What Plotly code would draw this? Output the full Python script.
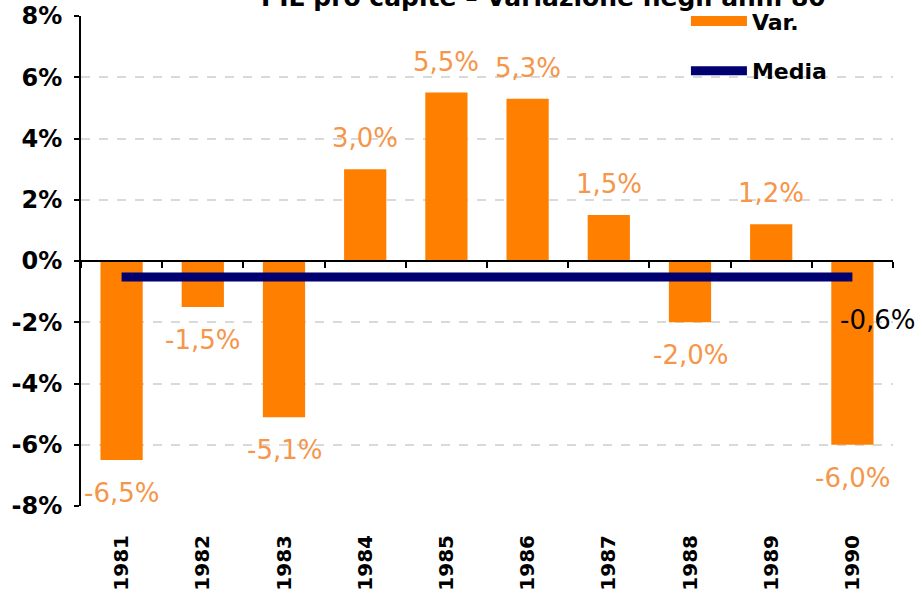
import plotly.graph_objects as go

years = ["1981", "1982", "1983", "1984", "1985", "1986", "1987", "1988", "1989", "1990"]
var_values = [-6.5, -1.5, -5.1, 3.0, 5.5, 5.3, 1.5, -2.0, 1.2, -6.0]
var_labels = ["-6,5%", "-1,5%", "-5,1%", "3,0%", "5,5%", "5,3%", "1,5%", "-2,0%", "1,2%", "-6,0%"]
media_values = [-0.52] * 10
media_label = "-0,6%"
y_ticks = [-8, -6, -4, -2, 0, 2, 4, 6, 8]
y_ticktext = ["-8%", "-6%", "-4%", "-2%", "0%", "2%", "4%", "6%", "8%"]
title_text = "PIL pro capite – Variazione negli anni 80"

ORANGE = "#FF7F00"
LABEL_ORANGE = "#F5964A"
NAVY = "#000070"
FONT = "DejaVu Sans"
XRANGE = [-0.5, len(years) - 0.5]

fig = go.Figure()
fig.add_trace(go.Bar(x=years, y=var_values, name="Var.", legendgroup="a", showlegend=False,
                     marker=dict(color=ORANGE, line=dict(width=0))))
# legend entry for the bars, drawn as a wide orange swatch like the original legend
fig.add_trace(go.Scatter(x=[None], y=[None], name="Var.", mode="lines", legendgroup="a",
                         line=dict(color=ORANGE, width=16), hoverinfo="skip"))
fig.add_trace(go.Scatter(x=years, y=media_values, name="Media", mode="lines", legendgroup="b",
                         line=dict(color=NAVY, width=9)))
# invisible trace carrying the zero-line category axis with boundary ticks
fig.add_trace(go.Scatter(x=years, y=[0] * len(years), xaxis="x2", mode="lines",
                         line=dict(width=0), showlegend=False, hoverinfo="skip"))

annotations = []
for i, (v, lab) in enumerate(zip(var_values, var_labels)):
    annotations.append(dict(
        x=i, y=v, text=lab, showarrow=False, xref="x", yref="y",
        yanchor="bottom" if v >= 0 else "top",
        yshift=14 if v >= 0 else -16,
        font=dict(family=FONT, size=26, color=LABEL_ORANGE)))
annotations.append(dict(
    x=len(years) - 1, y=media_values[-1], text=media_label, showarrow=False,
    xref="x", yref="y", xanchor="center", yanchor="middle", xshift=25, yshift=-43,
    font=dict(family=FONT, size=26, color="black")))
annotations.append(dict(
    x=0.57, y=1, xref="paper", yref="paper", xanchor="center", yanchor="bottom",
    yshift=2, text="<b>" + title_text + "</b>", showarrow=False,
    font=dict(family=FONT, size=25, color="black")))

fig.update_layout(
    width=922, height=599,
    margin=dict(l=81, r=29, t=16, b=93, autoexpand=False),
    paper_bgcolor="white", plot_bgcolor="white",
    bargap=0.48,
    font=dict(family=FONT, color="black"),
    legend=dict(x=0.745, y=1.032, xanchor="left", yanchor="top", bgcolor="rgba(0,0,0,0)",
                font=dict(family=FONT, size=22, color="black", weight="bold"),
                traceorder="grouped", tracegroupgap=18, itemwidth=56),
    annotations=annotations,
    showlegend=True,
    xaxis=dict(type="category", categoryarray=years, range=XRANGE, automargin=False,
               showline=False, ticks="", showgrid=False, zeroline=False,
               tickangle=-90, ticklabelstandoff=24, ticklabeloverflow="allow",
               tickfont=dict(family=FONT, size=20, color="black", weight="bold")),
    xaxis2=dict(type="category", categoryarray=years, range=XRANGE, overlaying="x",
                anchor="free", position=0.5, side="bottom", showline=True, linecolor="black",
                linewidth=2, ticks="outside", tickson="boundaries", ticklen=6, automargin=False,
                tickwidth=2, tickcolor="black", showticklabels=False,
                showgrid=False, zeroline=False),
    yaxis=dict(range=[-8, 8], tickvals=y_ticks, ticktext=y_ticktext, automargin=False,
               showgrid=True, gridcolor="#D9D9D9", griddash="dash", gridwidth=2,
               zeroline=False, showline=True, linecolor="black", linewidth=2,
               ticks="outside", ticklen=5, tickcolor="black", tickwidth=2,
               tickfont=dict(family=FONT, size=24, color="black", weight="bold"),
               ticklabelstandoff=7, ticklabeloverflow="allow"),
)

fig.write_html("out.html", config={"displayModeBar": False},
               post_script="document.body.style.margin='0';")
